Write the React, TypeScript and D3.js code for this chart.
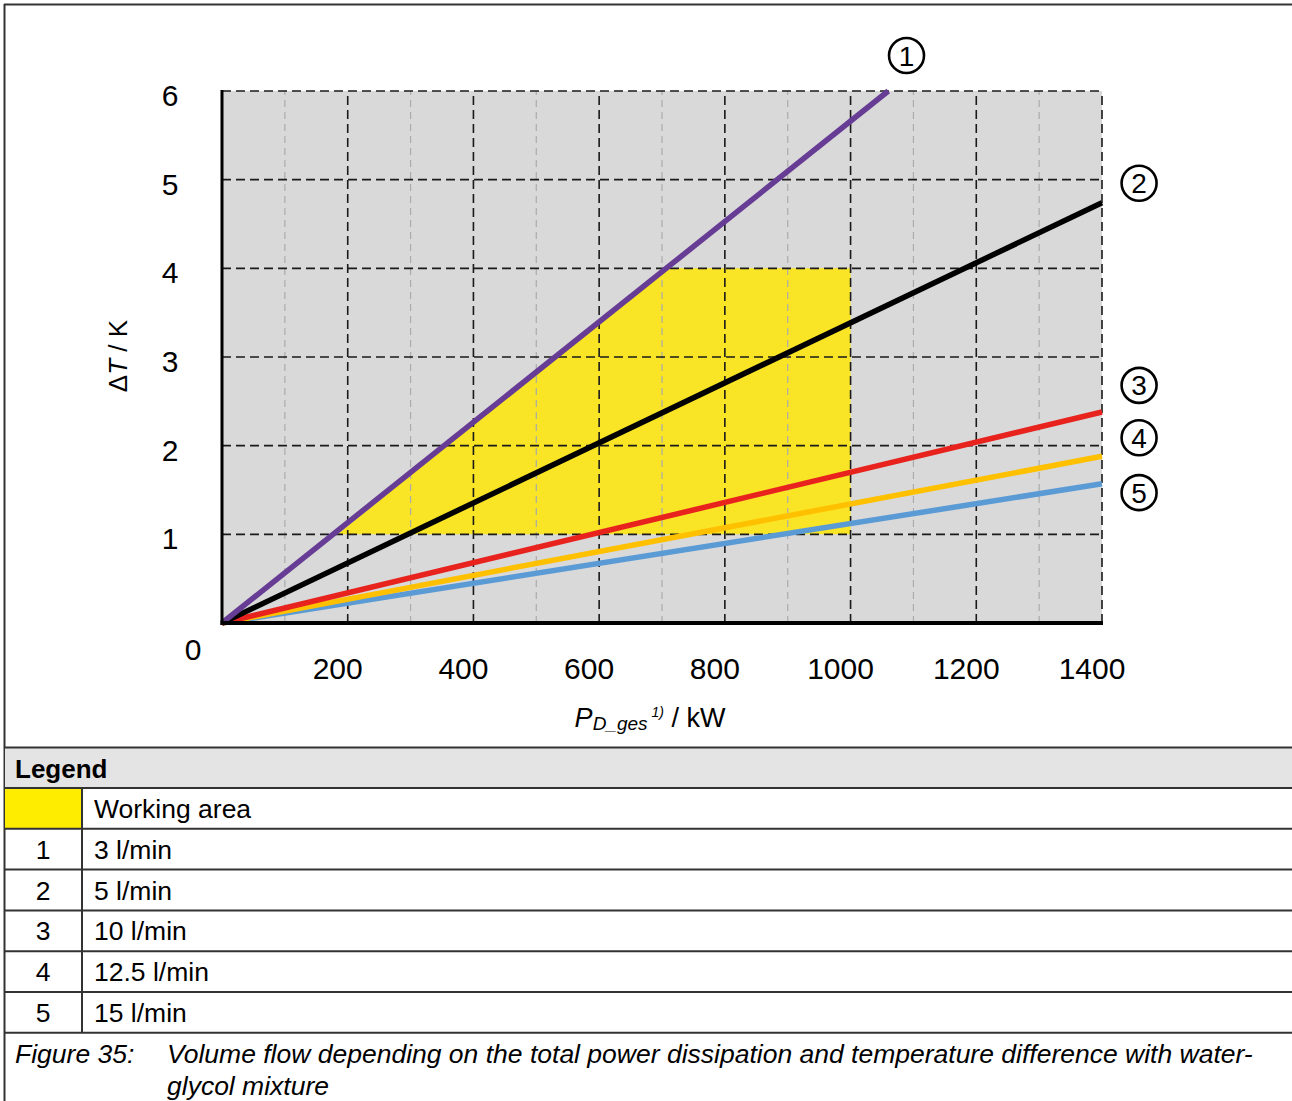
import React, { useRef, useEffect } from 'react';
import * as d3 from 'd3';

const W = 1292;
const H = 1101;
const FONT = 'Liberation Sans, Arial, sans-serif';

// x ticks (kW) and y ticks (K)
const xMajorTicks = [200, 400, 600, 800, 1000, 1200, 1400];
const xMinorTicks = [100, 300, 500, 700, 900, 1100, 1300];
const yTicks = [1, 2, 3, 4, 5, 6];

// series: flow rate curves
const seriesNames = ['1', '2', '3', '4', '5'];
const seriesColors = ['#673C94', '#000000', '#E8231E', '#FFC000', '#5B9BD5'];
const seriesPoints: [number, number][][] = [
  [[0, 0], [1060, 6]],
  [[0, 0], [1400, 4.74]],
  [[0, 0], [1400, 2.38]],
  [[0, 0], [1400, 1.88]],
  [[0, 0], [1400, 1.57]],
];
// circled marker positions, in data units
const markerPos: [number, number][] = [
  [1089, 6.4],
  [1459, 4.96],
  [1459, 2.68],
  [1459, 2.09],
  [1459, 1.47],
];

// working area polygon
const workingArea: [number, number][] = [
  [184, 1],
  [705, 4],
  [1000, 4],
  [1000, 1],
];

const legendRows = ['3 l/min', '5 l/min', '10 l/min', '12.5 l/min', '15 l/min'];

const App: React.FC = () => {
  const svgRef = useRef<SVGSVGElement>(null);

  useEffect(() => {
    if (!svgRef.current) return;
    const svg = d3.select(svgRef.current);
    svg.selectAll('*').remove();

    const x = d3.scaleLinear().domain([0, 1400]).range([222, 1102]);
    const y = d3.scaleLinear().domain([0, 6]).range([623, 91]);

    // plot background
    svg.append('rect')
      .attr('x', x(0))
      .attr('y', y(6))
      .attr('width', x(1400) - x(0))
      .attr('height', y(0) - y(6))
      .attr('fill', '#D9D9D9');

    // working area
    svg.append('path')
      .attr('d', d3.line<[number, number]>().x((d) => x(d[0])).y((d) => y(d[1]))(workingArea) + 'Z')
      .attr('fill', '#F9E526');

    // minor grid (light gray)
    xMinorTicks.forEach((t) => {
      svg.append('line')
        .attr('x1', x(t)).attr('x2', x(t))
        .attr('y1', y(0)).attr('y2', y(6))
        .attr('stroke', '#ABABAB')
        .attr('stroke-width', 1.2)
        .attr('stroke-dasharray', '7,5');
    });

    // major grid (black dashed)
    xMajorTicks.forEach((t) => {
      svg.append('line')
        .attr('x1', x(t)).attr('x2', x(t))
        .attr('y1', y(0)).attr('y2', y(6))
        .attr('stroke', '#1a1a1a')
        .attr('stroke-width', 1.6)
        .attr('stroke-dasharray', '9,5');
    });
    yTicks.forEach((t) => {
      svg.append('line')
        .attr('x1', x(0)).attr('x2', x(1400))
        .attr('y1', y(t)).attr('y2', y(t))
        .attr('stroke', '#1a1a1a')
        .attr('stroke-width', 1.6)
        .attr('stroke-dasharray', '9,5');
    });

    // series lines
    const line = d3.line<[number, number]>().x((d) => x(d[0])).y((d) => y(d[1]));
    [4, 3, 2, 1, 0].forEach((i) => {
      svg.append('path')
        .attr('d', line(seriesPoints[i]) ?? '')
        .attr('fill', 'none')
        .attr('stroke', seriesColors[i])
        .attr('stroke-width', 5.5)
        .attr('stroke-linecap', 'butt');
    });

    // axes
    svg.append('line')
      .attr('x1', x(0)).attr('x2', x(0))
      .attr('y1', y(6) - 1).attr('y2', y(0) + 2)
      .attr('stroke', '#000').attr('stroke-width', 3);
    svg.append('line')
      .attr('x1', x(0) - 1.5).attr('x2', x(1400) + 1)
      .attr('y1', y(0)).attr('y2', y(0))
      .attr('stroke', '#000').attr('stroke-width', 4);

    // tick labels
    yTicks.forEach((t) => {
      svg.append('text')
        .attr('x', 170).attr('y', y(t) + 15)
        .attr('text-anchor', 'middle')
        .attr('font-family', FONT).attr('font-size', 30)
        .text(t);
    });
    svg.append('text')
      .attr('x', 193).attr('y', y(0) + 37)
      .attr('text-anchor', 'middle')
      .attr('font-family', FONT).attr('font-size', 30)
      .text('0');
    xMajorTicks.forEach((t) => {
      svg.append('text')
        .attr('x', x(t) - 10).attr('y', 679)
        .attr('text-anchor', 'middle')
        .attr('font-family', FONT).attr('font-size', 30)
        .text(t);
    });

    // y axis title
    const yt = svg.append('text')
      .attr('transform', 'translate(127,356) rotate(-90)')
      .attr('text-anchor', 'middle')
      .attr('font-family', FONT).attr('font-size', 26);
    yt.append('tspan').text('Δ');
    yt.append('tspan').attr('font-style', 'italic').text('T');
    yt.append('tspan').text(' / K');

    // x axis title
    const xt = svg.append('text')
      .attr('x', 650).attr('y', 727)
      .attr('text-anchor', 'middle')
      .attr('font-family', FONT).attr('font-size', 27);
    xt.append('tspan').attr('font-style', 'italic').text('P');
    xt.append('tspan').attr('font-style', 'italic').attr('font-size', 19).attr('dy', 3).text('D_ges');
    xt.append('tspan').attr('font-style', 'italic').attr('font-size', 14).attr('dy', -13).text(' 1)');
    xt.append('tspan').attr('dy', 10).text(' / kW');

    // circled markers
    markerPos.forEach((p, i) => {
      const g = svg.append('g').attr('transform', `translate(${x(p[0])},${y(p[1])})`);
      g.append('circle')
        .attr('r', 17.5)
        .attr('fill', '#fff')
        .attr('stroke', '#000')
        .attr('stroke-width', 2.6);
      g.append('text')
        .attr('y', 10)
        .attr('text-anchor', 'middle')
        .attr('font-family', FONT).attr('font-size', 28)
        .text(seriesNames[i]);
    });

    // frame
    const border = '#333';
    svg.append('line').attr('x1', 4).attr('x2', W).attr('y1', 4.5).attr('y2', 4.5)
      .attr('stroke', border).attr('stroke-width', 2);
    svg.append('line').attr('x1', 4.5).attr('x2', 4.5).attr('y1', 4).attr('y2', H)
      .attr('stroke', border).attr('stroke-width', 2);

    // legend table
    const rowTop = 788;
    const rowH = 40.8;
    svg.append('rect')
      .attr('x', 5).attr('y', 748).attr('width', W - 5).attr('height', rowTop - 748)
      .attr('fill', '#E4E4E4');
    svg.append('rect')
      .attr('x', 5).attr('y', rowTop).attr('width', 77).attr('height', rowH)
      .attr('fill', '#FFED00');
    svg.append('text')
      .attr('x', 15).attr('y', 778)
      .attr('font-family', FONT).attr('font-size', 26).attr('font-weight', 'bold')
      .text('Legend');
    svg.append('text')
      .attr('x', 94).attr('y', rowTop + 30)
      .attr('font-family', FONT).attr('font-size', 26.5)
      .text('Working area');
    legendRows.forEach((r, i) => {
      const ty = rowTop + rowH * (i + 1) + 30;
      svg.append('text')
        .attr('x', 43).attr('y', ty)
        .attr('text-anchor', 'middle')
        .attr('font-family', FONT).attr('font-size', 26.5)
        .text(seriesNames[i]);
      svg.append('text')
        .attr('x', 94).attr('y', ty)
        .attr('font-family', FONT).attr('font-size', 26.5)
        .text(r);
    });
    const hLines = [747.5];
    for (let i = 0; i <= legendRows.length + 1; i++) hLines.push(rowTop + rowH * i);
    hLines.forEach((ly) => {
      svg.append('line')
        .attr('x1', 4).attr('x2', W).attr('y1', ly).attr('y2', ly)
        .attr('stroke', border).attr('stroke-width', 2);
    });
    svg.append('line')
      .attr('x1', 82).attr('x2', 82)
      .attr('y1', rowTop).attr('y2', rowTop + rowH * (legendRows.length + 1))
      .attr('stroke', border).attr('stroke-width', 2);

    // caption
    svg.append('text')
      .attr('x', 15).attr('y', 1063)
      .attr('font-family', FONT).attr('font-size', 26.5).attr('font-style', 'italic')
      .text('Figure 35:');
    svg.append('text')
      .attr('x', 167).attr('y', 1063)
      .attr('font-family', FONT).attr('font-size', 26.5).attr('font-style', 'italic')
      .text('Volume flow depending on the total power dissipation and temperature difference with water-');
    svg.append('text')
      .attr('x', 167).attr('y', 1095)
      .attr('font-family', FONT).attr('font-size', 26.5).attr('font-style', 'italic')
      .text('glycol mixture');
  }, []);

  return (
    <svg
      ref={svgRef}
      width={W}
      height={H}
      style={{ position: 'absolute', top: 0, left: 0, background: '#fff' }}
    />
  );
};

export default App;
